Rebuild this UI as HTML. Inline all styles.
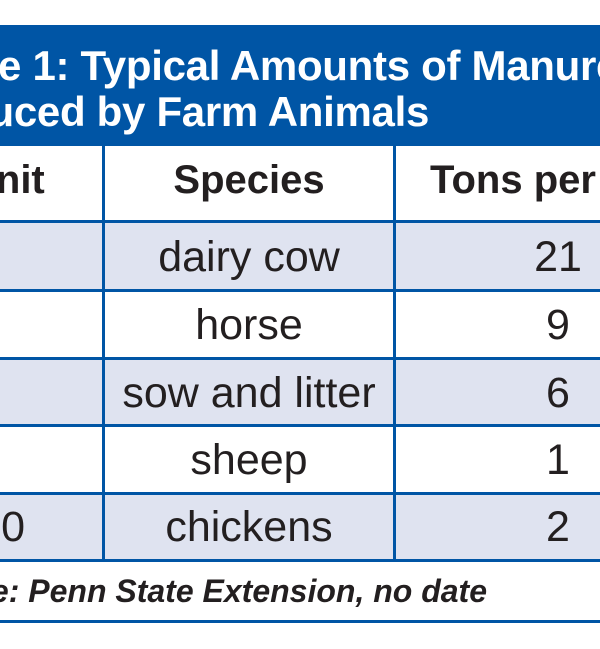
<!DOCTYPE html>
<html><head><style>
body{margin:0;width:600px;height:649px;background:#fff;position:relative;overflow:hidden;font-family:"Liberation Sans",sans-serif;color:#231f20}
.a{position:absolute;white-space:nowrap}
.hb{position:absolute;left:0;top:25px;width:600px;height:121px;background:#0055a5}
.t{color:#fff;font-weight:bold;font-size:42px;letter-spacing:-0.3px}
.row{position:absolute;left:0;width:600px;background:#dfe3f0}
.hl{position:absolute;left:0;width:600px;height:3px;background:#0055a5}
.vl{position:absolute;width:3px;background:#0055a5;top:146px;height:416px}
.c{font-size:43px;text-align:center}
.n{font-size:43px;text-align:center;width:80px;left:518px}
</style></head><body>
<div class="hb"></div>
<div class="a t" style="left:-84px;top:42px">Table 1: Typical Amounts of Manure</div>
<div class="a t" style="left:-106px;top:88px">Produced by Farm Animals</div>
<div class="row" style="top:223px;height:67px"></div>
<div class="row" style="top:359px;height:66px"></div>
<div class="row" style="top:494px;height:66px"></div>
<div class="hl" style="top:220px"></div>
<div class="hl" style="top:289px"></div>
<div class="hl" style="top:357px"></div>
<div class="hl" style="top:424px"></div>
<div class="hl" style="top:492px"></div>
<div class="hl" style="top:559px"></div>
<div class="hl" style="top:620px"></div>
<div class="vl" style="left:102px"></div>
<div class="vl" style="left:393px"></div>
<div class="a" style="left:-33px;top:158px;font-size:40px;font-weight:bold">Unit</div>
<div class="a" style="left:105px;width:288px;top:158px;font-size:40px;text-align:center;font-weight:bold">Species</div>
<div class="a" style="left:430px;top:158px;font-size:40px;font-weight:bold">Tons per year</div>
<div class="a c" style="left:105px;width:288px;top:233px">dairy cow</div>
<div class="a c" style="left:105px;width:288px;top:301px">horse</div>
<div class="a c" style="left:105px;width:288px;top:369px">sow and litter</div>
<div class="a c" style="left:105px;width:288px;top:436px">sheep</div>
<div class="a c" style="left:105px;width:288px;top:503px">chickens</div>
<div class="a n" style="top:233px">21</div>
<div class="a n" style="top:301px">9</div>
<div class="a n" style="top:369px">6</div>
<div class="a n" style="top:436px">1</div>
<div class="a n" style="top:503px">2</div>
<div class="a" style="right:575px;top:503px;font-size:43px">1,000</div>
<div class="a" style="right:113px;top:573px;font-size:32px;font-weight:bold;font-style:italic">Source: Penn State Extension, no date</div>
</body></html>
